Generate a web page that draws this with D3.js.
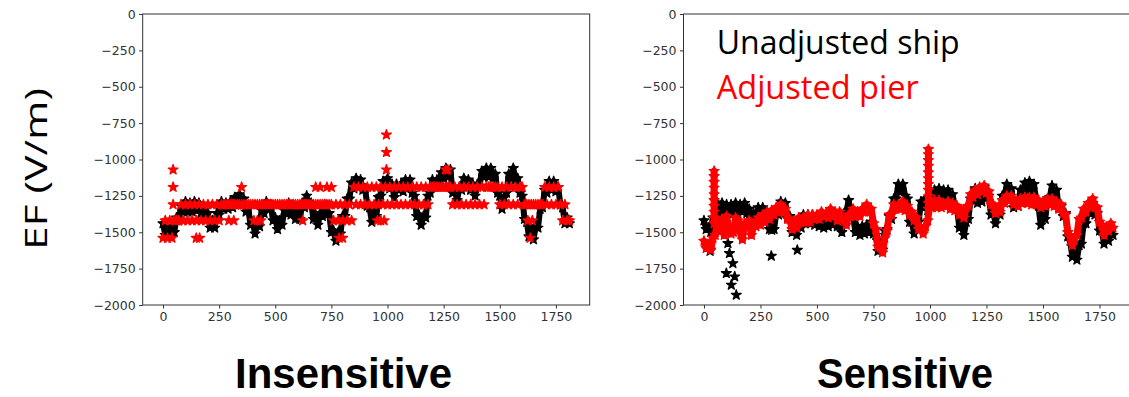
<!DOCTYPE html>
<html>
<head>
<meta charset="utf-8">
<script src="https://cdn.jsdelivr.net/npm/d3@7"></script>
<style>
  html, body { margin: 0; padding: 0; background: #fff; }
  svg { display: block; }
</style>
</head>
<body>
<svg id="chart" width="1129" height="397"></svg>
<script>
// ---------------- DATA ----------------
const xStart = 0;      // first sample x
const xStep = 10;      // sample spacing (x units)

const yTicks = [0, -250, -500, -750, -1000, -1250, -1500, -1750, -2000];
const yTickLabels = ["0", "\u2212250", "\u2212500", "\u2212750", "\u22121000", "\u22121250", "\u22121500", "\u22121750", "\u22122000"];
const xTicks = [0, 250, 500, 750, 1000, 1250, 1500, 1750];
const xTickLabels = ["0", "250", "500", "750", "1000", "1250", "1500", "1750"];

const panelTitles = ["Insensitive", "Sensitive"];
const seriesNames = ["Unadjusted ship", "Adjusted pier"];
const yLabel = "EF (V/m)";

// Insensitive panel: unadjusted ship (black), x = 0..1810 step 10
const shipIns = [
  -1440, -1520, -1470, -1530, -1460, -1500, -1400, -1420, -1320, -1360,
  -1290, -1360, -1300, -1360, -1290, -1350, -1300, -1370, -1320, -1400,
  -1370, -1470, -1420, -1470, -1370, -1380, -1290, -1340, -1300, -1340,
  -1290, -1330, -1260, -1310, -1240, -1310, -1270, -1360, -1340, -1450,
  -1430, -1510, -1440, -1460, -1350, -1370, -1290, -1340, -1310, -1420,
  -1400, -1480, -1420, -1450, -1350, -1370, -1300, -1380, -1310, -1410,
  -1370, -1410, -1300, -1330, -1250, -1320, -1300, -1410, -1380, -1450,
  -1370, -1390, -1310, -1380, -1370, -1500, -1490, -1560, -1500, -1510,
  -1390, -1390, -1270, -1270, -1160, -1200, -1130, -1190, -1140, -1210,
  -1200, -1320, -1330, -1430, -1370, -1390, -1260, -1250, -1150, -1190,
  -1130, -1200, -1170, -1260, -1170, -1210, -1170, -1220, -1140, -1190,
  -1140, -1230, -1250, -1390, -1380, -1450, -1390, -1400, -1250, -1230,
  -1140, -1190, -1140, -1180, -1090, -1130, -1060, -1120, -1070, -1230,
  -1210, -1280, -1190, -1210, -1130, -1190, -1140, -1210, -1170, -1250,
  -1170, -1180, -1080, -1120, -1060, -1120, -1060, -1130, -1100, -1230,
  -1250, -1340, -1260, -1230, -1100, -1130, -1060, -1140, -1130, -1230,
  -1250, -1410, -1430, -1530, -1480, -1550, -1460, -1470, -1340, -1330,
  -1210, -1230, -1150, -1210, -1150, -1220, -1190, -1310, -1330, -1440,
  -1400, -1440
];

// Insensitive panel: adjusted pier (red), quantised levels, x = 0..1810 step 10
const pierIns = [
  -1540, -1420, -1540, -1420, -1540, -1420, -1420, -1420, -1310, -1420,
  -1310, -1420, -1310, -1420, -1310, -1420, -1310, -1420, -1310, -1420,
  -1310, -1420, -1310, -1420, -1310, -1420, -1310, -1310, -1310, -1310,
  -1310, -1310, -1310, -1310, -1310, -1310, -1310, -1310, -1310, -1310,
  -1310, -1310, -1310, -1310, -1310, -1310, -1310, -1310, -1310, -1310,
  -1310, -1310, -1310, -1310, -1310, -1310, -1310, -1310, -1310, -1310,
  -1310, -1310, -1310, -1310, -1310, -1310, -1310, -1310, -1310, -1310,
  -1310, -1310, -1310, -1310, -1310, -1310, -1420, -1310, -1420, -1310,
  -1420, -1310, -1420, -1310, -1420, -1190, -1310, -1190, -1310, -1190,
  -1310, -1190, -1310, -1190, -1310, -1190, -1310, -1190, -1310, -1190,
  -1310, -1190, -1310, -1190, -1310, -1190, -1310, -1190, -1310, -1190,
  -1310, -1190, -1310, -1190, -1310, -1190, -1310, -1190, -1310, -1190,
  -1190, -1190, -1190, -1190, -1190, -1190, -1190, -1190, -1190, -1310,
  -1190, -1310, -1190, -1310, -1190, -1310, -1190, -1310, -1190, -1310,
  -1190, -1310, -1190, -1310, -1190, -1190, -1190, -1190, -1190, -1190,
  -1310, -1190, -1310, -1190, -1310, -1190, -1310, -1190, -1310, -1190,
  -1190, -1310, -1310, -1310, -1310, -1310, -1310, -1310, -1310, -1310,
  -1190, -1310, -1190, -1310, -1190, -1310, -1190, -1310, -1420, -1310,
  -1420, -1420
];
// isolated red stars (insensitive)
const pierInsExtraX = [45, 45, 45, 148, 163, 293, 315, 350, 405, 420, 435, 622,
  680, 700, 730, 750, 785, 800, 955, 970, 985, 995, 995, 995, 1258, 1268, 1625, 1635, 1645];
const pierInsExtraY = [-1310, -1190, -1070, -1540, -1540, -1420, -1420, -1190, -1420, -1420, -1420, -1420,
  -1190, -1190, -1190, -1190, -1540, -1540, -1420, -1420, -1420, -1070, -950, -830, -1070, -1070, -1420, -1540, -1420];

// Sensitive panel: unadjusted ship (black), x = 0..1810 step 10
const shipSens = [
  -1420, -1480, -1470, -1500, -1400, -1420, -1300, -1370, -1300, -1380,
  -1310, -1370, -1310, -1370, -1300, -1370, -1310, -1360, -1300, -1370,
  -1340, -1410, -1370, -1410, -1330, -1380, -1330, -1410, -1390, -1480,
  -1430, -1480, -1370, -1380, -1290, -1340, -1300, -1400, -1390, -1500,
  -1460, -1520, -1450, -1470, -1380, -1440, -1380, -1440, -1380, -1450,
  -1390, -1460, -1400, -1470, -1400, -1460, -1390, -1450, -1400, -1460,
  -1440, -1500, -1370, -1360, -1280, -1370, -1390, -1500, -1460, -1520,
  -1460, -1510, -1450, -1500, -1430, -1510, -1520, -1630, -1580, -1620,
  -1490, -1480, -1390, -1410, -1270, -1270, -1170, -1220, -1170, -1250,
  -1270, -1430, -1430, -1510, -1440, -1430, -1290, -1330, -1270, -1350,
  -1270, -1290, -1210, -1270, -1200, -1260, -1210, -1260, -1210, -1280,
  -1240, -1330, -1340, -1470, -1450, -1520, -1430, -1410, -1270, -1280,
  -1200, -1300, -1280, -1290, -1190, -1250, -1250, -1380, -1360, -1440,
  -1370, -1380, -1250, -1250, -1170, -1230, -1200, -1330, -1310, -1320,
  -1210, -1240, -1160, -1210, -1150, -1220, -1170, -1280, -1320, -1450,
  -1390, -1410, -1270, -1260, -1180, -1240, -1210, -1330, -1320, -1390,
  -1370, -1530, -1560, -1670, -1630, -1690, -1590, -1580, -1440, -1440,
  -1340, -1370, -1300, -1380, -1370, -1490, -1490, -1580, -1520, -1560,
  -1470, -1520
];
// isolated black stars (sensitive)
const shipSensExtraX = [27, 106, 113, 128, 99, 136, 121, 143, 298, 300, 413];
const shipSensExtraY = [-1630, -1576, -1645, -1714, -1782, -1805, -1862, -1931, -1663, -1485, -1622];

// Sensitive panel: adjusted pier (red), x = 0..1810 step 10
const pierSens = [
  -1560, -1610, -1590, -1620, -1540, -1520, -1420, -1490, -1410, -1520,
  -1390, -1470, -1510, -1500, -1400, -1420, -1490, -1550, -1440, -1440,
  -1420, -1520, -1450, -1460, -1400, -1450, -1380, -1430, -1360, -1410,
  -1350, -1380, -1330, -1360, -1310, -1360, -1340, -1410, -1410, -1480,
  -1440, -1470, -1400, -1430, -1400, -1430, -1380, -1430, -1380, -1410,
  -1380, -1410, -1360, -1390, -1370, -1400, -1340, -1390, -1360, -1420,
  -1360, -1410, -1420, -1450, -1380, -1390, -1340, -1390, -1360, -1390,
  -1340, -1360, -1310, -1360, -1340, -1440, -1480, -1600, -1600, -1640,
  -1540, -1490, -1380, -1380, -1310, -1340, -1310, -1340, -1290, -1350,
  -1320, -1380, -1360, -1420, -1400, -1480, -1470, -1510, -1460, -1420,
  -1300, -1330, -1280, -1330, -1280, -1330, -1300, -1320, -1290, -1340,
  -1300, -1350, -1320, -1380, -1350, -1400, -1330, -1320, -1240, -1260,
  -1210, -1240, -1190, -1220, -1180, -1230, -1220, -1310, -1310, -1370,
  -1340, -1360, -1280, -1300, -1250, -1280, -1250, -1310, -1290, -1320,
  -1270, -1300, -1260, -1300, -1260, -1310, -1260, -1310, -1280, -1330,
  -1290, -1320, -1270, -1310, -1270, -1320, -1290, -1340, -1310, -1370,
  -1380, -1500, -1530, -1590, -1540, -1520, -1410, -1400, -1340, -1360,
  -1300, -1320, -1270, -1330, -1330, -1430, -1450, -1520, -1470, -1490,
  -1440, -1470
];
// red spikes (sensitive)
const pierSensExtraX = [45, 45, 45, 45, 45, 45, 45, 45, 45, 45,
  993, 993, 993, 993, 993, 993, 993, 993, 993, 993, 993];
const pierSensExtraY = [-1080, -1115, -1155, -1195, -1240, -1280, -1320, -1360, -1400, -1440,
  -930, -965, -1005, -1045, -1090, -1130, -1170, -1210, -1255, -1300, -1340];

const colShip = "#000000";
const colPier = "#ff0000";

// ---------------- DRAWING ----------------
const svg = d3.select("#chart");
const H = 291, TOP = 14;
const panels = [
  { x0: 142.7, w: 447, ship: shipIns, pier: pierIns, shipEx: null, pierEx: [pierInsExtraX, pierInsExtraY], pierMode: "level", title: panelTitles[0], tx: 343.5, tl: 217 },
  { x0: 683.5, w: 450, ship: shipSens, pier: pierSens, shipEx: [shipSensExtraX, shipSensExtraY], pierEx: [pierSensExtraX, pierSensExtraY], pierMode: "dense", title: panelTitles[1], tx: 905, tl: 176 }
];

const star = d3.symbol().type(d3.symbolStar).size(30);

function toPts(vals) { return vals.map((v, i) => ({ x: xStart + i * xStep, y: v })); }
function toPtsXY(ex) { return ex ? ex[0].map((x, i) => ({ x: x, y: ex[1][i] })) : []; }

// segments that render the densely sampled record between the stars
function denseSegs(pts) {
  const s = [];
  for (let i = 0; i + 1 < pts.length; i++) s.push([pts[i], pts[i + 1]]);
  return s;
}
function levelSegs(pts) {
  const s = [];
  for (let i = 0; i < pts.length; i++) {
    for (let k = 1; k <= 2; k++) {
      const j = i + k;
      if (j < pts.length && pts[j].y === pts[i].y) { s.push([pts[i], pts[j]]); break; }
    }
  }
  return s;
}
// vertical runs of extra points sharing the same x (spikes)
function spikeSegs(pts) {
  const s = [];
  for (let i = 0; i + 1 < pts.length; i++) {
    if (pts[i].x === pts[i + 1].x && Math.abs(pts[i].y - pts[i + 1].y) < 60) s.push([pts[i], pts[i + 1]]);
  }
  return s;
}

panels.forEach((p, pi) => {
  const g = svg.append("g").attr("transform", `translate(${p.x0},${TOP})`);
  const x = d3.scaleLinear().domain([-90.5, 1900.5]).range([0, p.w]);
  const y = d3.scaleLinear().domain([-2000, 0]).range([H, 0]);

  const ya = g.append("g").call(d3.axisLeft(y).tickValues(yTicks).tickFormat((d, i) => yTickLabels[i]).tickSize(3.5).tickPadding(3.5).tickSizeOuter(0));
  const xa = g.append("g").attr("transform", `translate(0,${H})`)
    .call(d3.axisBottom(x).tickValues(xTicks).tickFormat((d, i) => xTickLabels[i]).tickSize(3.5).tickPadding(3.5).tickSizeOuter(0));
  [ya, xa].forEach(a => {
    a.select(".domain").remove();
    a.selectAll(".tick line").attr("stroke", "#333").attr("stroke-width", 1);
    a.selectAll(".tick text").attr("fill", "#333").style("font-family", "DejaVu Sans").style("font-size", "12.5px");
  });

  const dg = g.append("g");

  function drawSeries(vals, ex, col, mode, cls, lw) {
    const base = toPts(vals), extra = toPtsXY(ex);
    const segs = (mode === "level" ? levelSegs(base) : denseSegs(base)).concat(spikeSegs(extra));
    dg.selectAll("line." + cls).data(segs).enter().append("line")
      .attr("class", cls)
      .attr("x1", d => x(d[0].x)).attr("y1", d => y(d[0].y))
      .attr("x2", d => x(d[1].x)).attr("y2", d => y(d[1].y))
      .attr("stroke", col).attr("stroke-width", lw).attr("stroke-linecap", "round");
    dg.selectAll("path." + cls).data(base.concat(extra)).enter().append("path")
      .attr("class", cls).attr("d", star)
      .attr("transform", d => `translate(${x(d.x)},${y(d.y)})`)
      .attr("fill", col).attr("stroke", col).attr("stroke-width", 1.3).attr("stroke-linejoin", "round");
  }
  drawSeries(p.ship, p.shipEx, colShip, "dense", "ship", 6);
  drawSeries(p.pier, p.pierEx, colPier, p.pierMode, "pier", p.pierMode === "level" ? 6 : 7);

  g.append("rect").attr("x", 0).attr("y", 0).attr("width", p.w).attr("height", H)
    .attr("fill", "none").attr("stroke", "#333").attr("stroke-width", 1);

  svg.append("text").attr("x", p.tx).attr("y", 388).attr("text-anchor", "middle")
    .attr("textLength", p.tl).attr("lengthAdjust", "spacingAndGlyphs")
    .style("font-family", "'Liberation Sans', Arial, sans-serif").style("font-weight", "bold").style("font-size", "42px")
    .attr("fill", "#000").text(p.title);

  if (pi === 1) {
    svg.append("text").attr("x", 716.7).attr("y", 53.5)
      .attr("textLength", 243).attr("lengthAdjust", "spacingAndGlyphs")
      .style("font-family", "'Open Sans', sans-serif").style("font-size", "32px")
      .attr("fill", colShip).text(seriesNames[0]);
    svg.append("text").attr("x", 716.7).attr("y", 98.5)
      .attr("textLength", 202).attr("lengthAdjust", "spacingAndGlyphs")
      .style("font-family", "'Open Sans', sans-serif").style("font-size", "32px")
      .attr("fill", colPier).text(seriesNames[1]);
  }
});

svg.append("text")
  .attr("transform", "translate(47,169) rotate(-90)")
  .attr("text-anchor", "middle")
  .attr("textLength", 162).attr("lengthAdjust", "spacingAndGlyphs")
  .style("font-family", "'Open Sans', sans-serif").style("font-size", "31px")
  .attr("fill", "#000").text(yLabel);
</script>
</body>
</html>
